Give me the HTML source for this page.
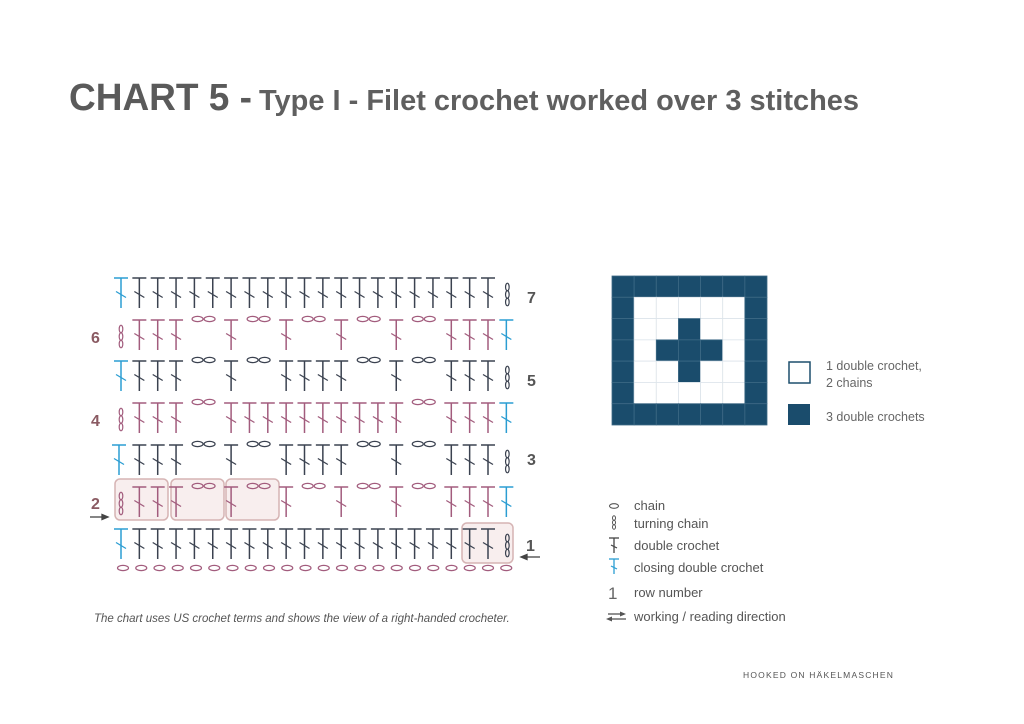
<!DOCTYPE html>
<html><head><meta charset="utf-8"><style>
html,body{margin:0;padding:0;background:#fff;}
svg{display:block;font-family:"Liberation Sans",sans-serif;}
</style></head><body>
<svg id="s" width="1024" height="724" viewBox="0 0 1024 724" xmlns="http://www.w3.org/2000/svg">
<rect width="1024" height="724" fill="#fff"/>
<text x="69" y="110" font-size="38" font-weight="bold" fill="#5a5a5a" textLength="183" lengthAdjust="spacingAndGlyphs">CHART 5 -</text>
<text x="259" y="110" font-size="29" font-weight="bold" fill="#5f5f5f" textLength="600" lengthAdjust="spacingAndGlyphs">Type I - Filet crochet worked over 3 stitches</text>
<g fill="#f8eeee" stroke="#d6b4b4" stroke-width="1.5">
<rect x="115" y="479" width="53" height="41" rx="5"/>
<rect x="171" y="479" width="53" height="41" rx="5"/>
<rect x="226" y="479" width="53" height="41" rx="5"/>
<rect x="462" y="523" width="51" height="40" rx="5"/>
</g>
<g id="chart"></g>
<g font-size="16" font-weight="bold">
<text x="91" y="343" fill="#8a5a62">6</text>
<text x="91" y="426" fill="#8a5a62">4</text>
<text x="91" y="509" fill="#8a5a62">2</text>
<text x="527" y="303" fill="#555">7</text>
<text x="527" y="386" fill="#555">5</text>
<text x="527" y="465" fill="#555">3</text>
<text x="526" y="551" fill="#555">1</text>
</g>
<g stroke="#444" stroke-width="1.3" fill="#444">
<line x1="90" y1="517" x2="104" y2="517"/><path d="M108 517 L102 514.5 L102 519.5Z"/>
<line x1="526" y1="557" x2="540" y2="557"/><path d="M521 557 L527 554.5 L527 559.5Z"/>
</g>
<g id="grid"></g>
<rect x="789" y="362" width="21" height="21" fill="#fff" stroke="#1d4f6d" stroke-width="1.5"/>
<rect x="788" y="404" width="22" height="21" fill="#1a4c6c"/>
<g font-size="12.5" fill="#666">
<text x="826" y="370">1 double crochet,</text>
<text x="826" y="387">2 chains</text>
<text x="826" y="421">3 double crochets</text>
</g>
<g font-size="13" fill="#555">
<text x="634" y="510">chain</text>
<text x="634" y="528">turning chain</text>
<text x="634" y="550">double crochet</text>
<text x="634" y="572">closing double crochet</text>
<text x="634" y="597">row number</text>
<text x="634" y="621">working / reading direction</text>
<text x="608" y="599" font-size="17" fill="#666">1</text>
</g>
<g id="leg"></g>
<text x="94" y="622" font-size="11.5" font-style="italic" fill="#555">The chart uses US crochet terms and shows the view of a right-handed crocheter.</text>
<text x="743" y="678" font-size="8.5" fill="#555" letter-spacing="1.2">HOOKED ON HÄKELMASCHEN</text>
</svg>
<script>
(function(){
var NS="http://www.w3.org/2000/svg";
function el(p,t,a){var e=document.createElementNS(NS,t);for(var k in a)e.setAttribute(k,a[k]);p.appendChild(e);return e;}
var ch=document.getElementById('chart');
var DARK="#3b4250",PINK="#a25c7d",BLUE="#2b9dd2";
function dc(x,t,b,c){
 el(ch,'line',{x1:x,y1:t,x2:x,y2:b,stroke:c,'stroke-width':1.5});
 el(ch,'line',{x1:x-7,y1:t,x2:x+7,y2:t,stroke:c,'stroke-width':1.5});
 var m=t+(b-t)*0.55;
 el(ch,'line',{x1:x-5,y1:m-3,x2:x+5,y2:m+3,stroke:c,'stroke-width':1.3});
}
function chain(x,y,c){el(ch,'ellipse',{cx:x,cy:y,rx:5.5,ry:2.6,fill:'none',stroke:c,'stroke-width':1.2});}
function tch(x,t,c){for(var i=0;i<3;i++)el(ch,'ellipse',{cx:x,cy:t+9+i*7.5,rx:1.8,ry:3.8,fill:'none',stroke:c,'stroke-width':1.2});}
var X0=121,SP=18.35;
function cx(i){return X0+i*SP;}
var tops=[529,487,445,403,361,320,278];
var all="DDDDDDDDDDDDDDDDDDDD";
var r2="DDDCCDCCDCCDCCDCCDDD";
var r3="DDDCCDCCDDDDCCDCCDDD";
var r4="DDDCCDDDDDDDDDDCCDDD";
var pats=[all,r2,r3,r4,r3,r2,all];
for(var r=0;r<7;r++){
 var tp=tops[r],bt=tp+30,odd=(r%2==0),col=odd?DARK:PINK,p=pats[r];
 if(odd){dc(cx(0)-(r==2?2:0),tp,bt,BLUE);tch(cx(21)+1,tp,col);}
 else{tch(cx(0),tp,col);dc(cx(21),tp,bt,BLUE);}
 for(var i=0;i<20;i++){
  var x=cx(i+1);
  if(p[i]=='D')dc(x,tp,bt,col);
  else if(p[i]=='C'&&(i==0||p[i-1]!='C')){var mx=(cx(i+1)+cx(i+2))/2;chain(mx-6,tp-1,col);chain(mx+6,tp-1,col);}
 }
}
for(var i=0;i<22;i++)chain(123+i*18.25,568,PINK);
var g=document.getElementById('grid');
var gx=612,gy=276,cw=155/7,chh=149/7;
for(var r=0;r<7;r++)for(var c=0;c<7;c++){
 var dark=(r==0||r==6||c==0||c==6)||(c==3&&r>=2&&r<=4)||(r==3&&c>=2&&c<=4);
 el(g,'rect',{x:gx+c*cw,y:gy+r*chh,width:cw,height:chh,fill:dark?'#1a4c6c':'#fff',stroke:dark?'#3d6985':'#dde4ea','stroke-width':0.8});
}
var L=document.getElementById('leg');
el(L,'ellipse',{cx:614,cy:506,rx:4.5,ry:2.3,fill:'none',stroke:'#555','stroke-width':1.1});
for(var i=0;i<3;i++)el(L,'ellipse',{cx:614,cy:518+i*4.5,rx:1.5,ry:2.3,fill:'none',stroke:'#555','stroke-width':1});
function ldc(y,c){el(L,'line',{x1:614,y1:y,x2:614,y2:y+15,stroke:c,'stroke-width':1.3});el(L,'line',{x1:609,y1:y,x2:619,y2:y,stroke:c,'stroke-width':1.3});el(L,'line',{x1:611,y1:y+7,x2:617,y2:y+10,stroke:c,'stroke-width':1.2});}
ldc(538,'#444');ldc(559,BLUE);
el(L,'line',{x1:608,y1:614,x2:624,y2:614,stroke:'#555','stroke-width':1.3});
el(L,'path',{d:'M626 614 L620 611.5 L620 616.5Z',fill:'#555'});
el(L,'line',{x1:610,y1:619,x2:626,y2:619,stroke:'#555','stroke-width':1.3});
el(L,'path',{d:'M606 619 L612 616.5 L612 621.5Z',fill:'#555'});
})();
</script>
</body></html>
